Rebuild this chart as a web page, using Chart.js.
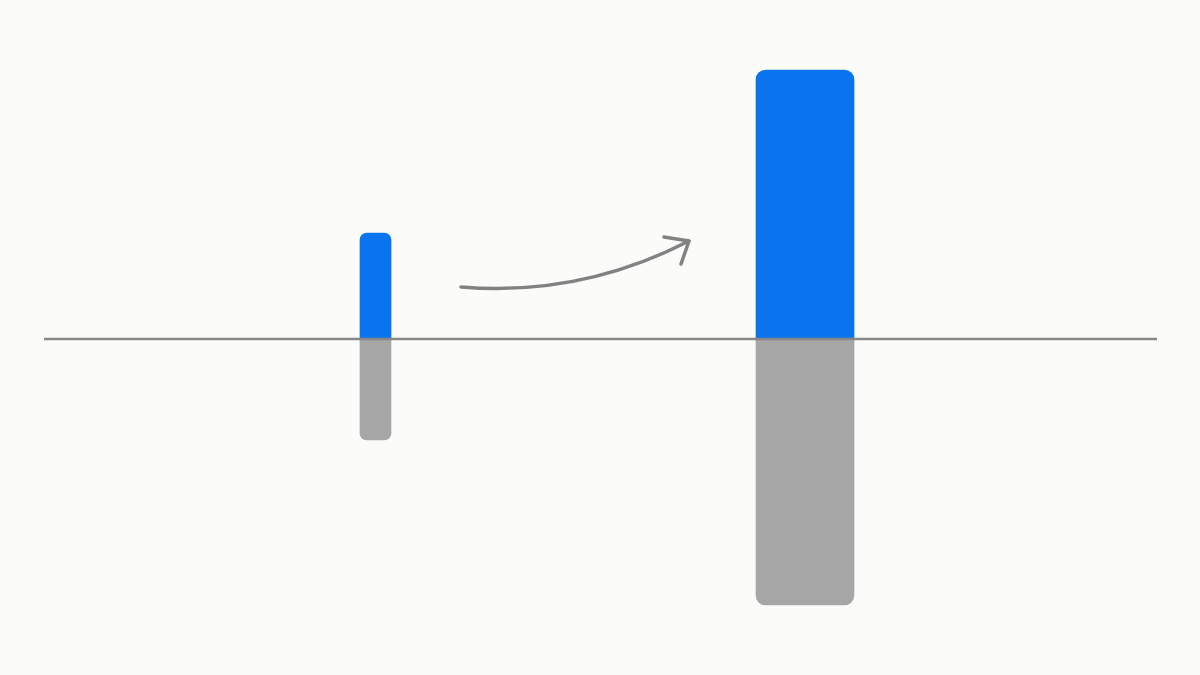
<!DOCTYPE html>
<html>
<head>
<meta charset="utf-8">
<script src="https://cdn.jsdelivr.net/npm/chart.js@4.4.1/dist/chart.umd.min.js"></script>
<style>
  html, body { margin: 0; padding: 0; background: #fbfbf9; }
  #wrap { width: 1200px; height: 675px; position: relative; }
</style>
</head>
<body>
<div id="wrap"><canvas id="grafico"></canvas></div>
<script>
// Dos barras: parte positiva (azul) y negativa (gris) sobre una línea base
const categorias = ['Antes', 'Después'];
const valoresPositivos = [106, 269];
const valoresNegativos = [-101, -266];

const azul = 'rgb(10, 116, 238)';
const gris = 'rgb(166, 166, 166)';
const grosores = [31, 98];
const radios = [7, 10];

// un dataset por barra y signo, para poder dar grosor distinto a cada barra
const datasets = [];
categorias.forEach(function(cat, i) {
    datasets.push({
        label: cat + ' +',
        data: categorias.map(function(_, j) { return j === i ? valoresPositivos[i] : null; }),
        backgroundColor: azul,
        barThickness: grosores[i],
        borderRadius: radios[i],
        borderSkipped: 'start'
    });
    datasets.push({
        label: cat + ' -',
        data: categorias.map(function(_, j) { return j === i ? valoresNegativos[i] : null; }),
        backgroundColor: gris,
        barThickness: grosores[i],
        borderRadius: radios[i],
        borderSkipped: 'start'
    });
});

// línea base en cero y flecha curva entre las barras
const lineaBase = {
    id: 'lineaBase',
    afterDatasetsDraw: function(chart) {
        const ctx = chart.ctx;
        const y0 = chart.scales.y.getPixelForValue(0);
        ctx.save();
        ctx.strokeStyle = 'rgb(136, 136, 136)';
        ctx.lineWidth = 2.5;
        ctx.beginPath();
        ctx.moveTo(44, y0);
        ctx.lineTo(1157, y0);
        ctx.stroke();

        // flecha
        ctx.strokeStyle = 'rgb(130, 130, 130)';
        ctx.lineWidth = 3.5;
        ctx.lineCap = 'round';
        ctx.lineJoin = 'round';
        ctx.beginPath();
        ctx.moveTo(461, 287);
        ctx.quadraticCurveTo(580, 297, 689, 241);
        ctx.stroke();
        ctx.beginPath();
        ctx.moveTo(664, 237);
        ctx.lineTo(689, 241);
        ctx.lineTo(681, 264);
        ctx.stroke();
        ctx.restore();
    }
};

new Chart(document.getElementById('grafico'), {
    type: 'bar',
    data: {
        labels: categorias,
        datasets: datasets
    },
    options: {
        responsive: true,
        maintainAspectRatio: false,
        animation: false,
        layout: {
            padding: { left: 160.75, right: 180.25, top: 0, bottom: 0 }
        },
        plugins: {
            legend: { display: false },
            title: { display: false },
            tooltip: { enabled: false }
        },
        scales: {
            x: {
                display: false,
                stacked: true,
                offset: true
            },
            y: {
                display: false,
                stacked: true,
                min: -336,
                max: 339
            }
        }
    },
    plugins: [lineaBase]
});
</script>
</body>
</html>
